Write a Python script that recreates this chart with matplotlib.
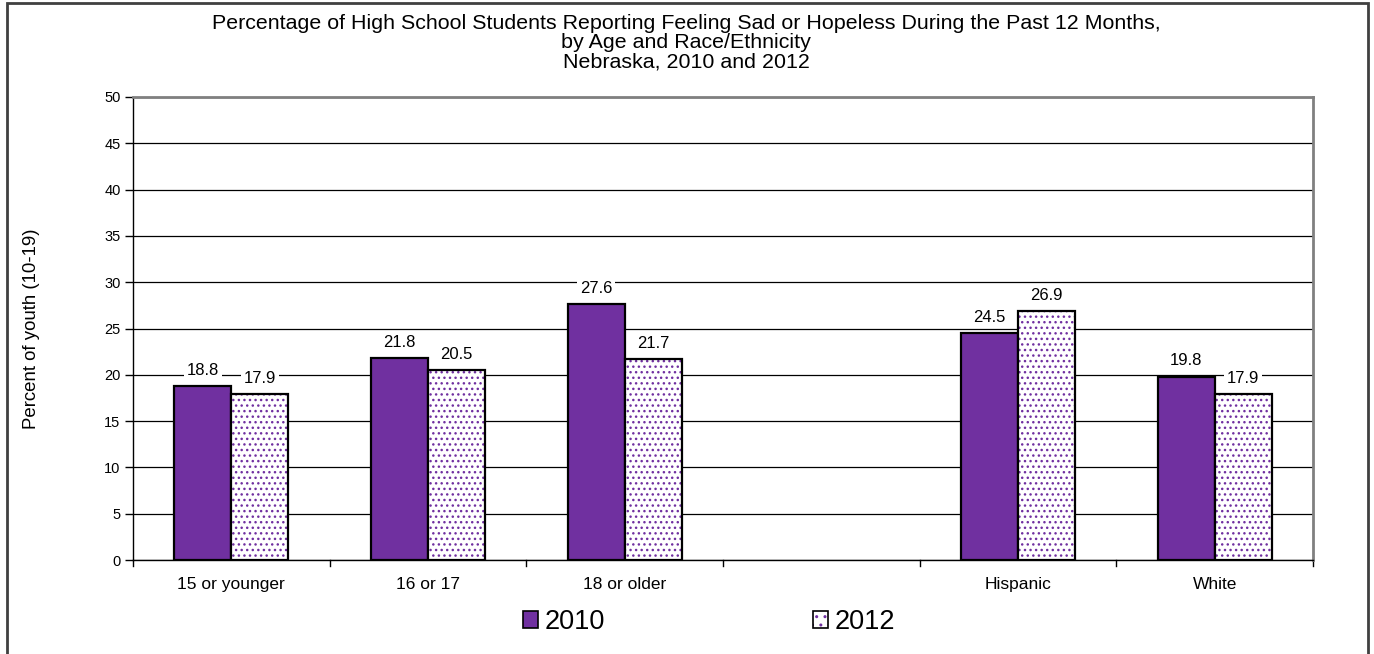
import matplotlib
matplotlib.use("Agg")
import matplotlib.pyplot as plt
import numpy as np
from matplotlib.patches import Rectangle
from matplotlib.legend_handler import HandlerTuple

plt.rcParams['font.family'] = ['Liberation Sans', 'DejaVu Sans']
plt.rcParams['hatch.linewidth'] = 1.0

categories = ["15 or younger", "16 or 17", "18 or older", "", "Hispanic", "White"]
v2010 = [18.8, 21.8, 27.6, None, 24.5, 19.8]
v2012 = [17.9, 20.5, 21.7, None, 26.9, 17.9]
years = ["2010", "2012"]
yticks = list(range(0, 55, 5))
title_lines = ["Percentage of High School Students Reporting Feeling Sad or Hopeless During the Past 12 Months,",
               "by Age and Race/Ethnicity",
               "Nebraska, 2010 and 2012"]

purple = "#7030A0"

fig = plt.figure(figsize=(13.74, 6.54), dpi=100)
ax = fig.add_axes([0.0968, 0.1437, 0.8588, 0.708])

x = np.arange(len(categories))
w = 0.29
for i, (a, b) in enumerate(zip(v2010, v2012)):
    if a is None:
        continue
    ax.bar(x[i] - w / 2, a, w, color=purple, edgecolor="black", linewidth=1.6, zorder=3)
    ax.bar(x[i] + w / 2, b, w, color="white", edgecolor=purple, hatch="...", linewidth=0, zorder=3)
    ax.bar(x[i] + w / 2, b, w, color="none", edgecolor="black", linewidth=1.6, zorder=4)
    for xv, v in ((x[i] - w / 2, a), (x[i] + w / 2, b)):
        ax.text(xv, v + 0.9, f"{v:.1f}", ha="center", va="bottom", fontsize=12,
                bbox=dict(facecolor="white", edgecolor="none", pad=2), zorder=5)

ax.set_xlim(-0.5, len(categories) - 0.5)
ax.set_ylim(0, 50)
ax.set_yticks(yticks)
ax.tick_params(axis='y', labelsize=10.5, length=6, direction='out', width=1, pad=3)
ax.set_xticks(x)
ax.set_xticklabels(categories, fontsize=12.5)
ax.tick_params(axis='x', length=0, pad=12)
for b in np.arange(-0.5, len(categories), 1):
    ax.plot([b, b], [0, -0.6], color="black", lw=1, clip_on=False)
ax.yaxis.grid(True, color="black", lw=0.9, zorder=0)
ax.set_axisbelow(True)
for s in ("top", "right"):
    ax.spines[s].set_color("#808080")
    ax.spines[s].set_linewidth(2)
for s in ("left", "bottom"):
    ax.spines[s].set_color("black")
    ax.spines[s].set_linewidth(1)
ax.set_ylabel("Percent of youth (10-19)", fontsize=13.4, labelpad=46)

for k, line in enumerate(title_lines):
    fig.text(0.4993, 0.9555 - k * 0.0292, line, ha="center", va="baseline", fontsize=15.4)

# legend
h1 = Rectangle((0, 0), 1, 1, facecolor=purple, edgecolor="black", lw=1.2)
h2a = Rectangle((0, 0), 1, 1, facecolor="white", edgecolor=purple, hatch="..", lw=0)
h2b = Rectangle((0, 0), 1, 1, facecolor="none", edgecolor="black", lw=1.2)
leg = fig.legend([h1, (h2a, h2b)], years, loc="center", bbox_to_anchor=(0.516, 0.049), ncol=2,
                 frameon=False, fontsize=19.5, handlelength=0.55, handleheight=0.55,
                 handletextpad=0.25, columnspacing=7.7,
                 handler_map={tuple: HandlerTuple(ndivide=1, pad=0)})

# outer frame
fig.patches.append(Rectangle((0.005, -0.01), 0.9905, 1.005, transform=fig.transFigure,
                             fill=False, edgecolor="#404040", lw=2))

fig.savefig("out.png", dpi=100)
